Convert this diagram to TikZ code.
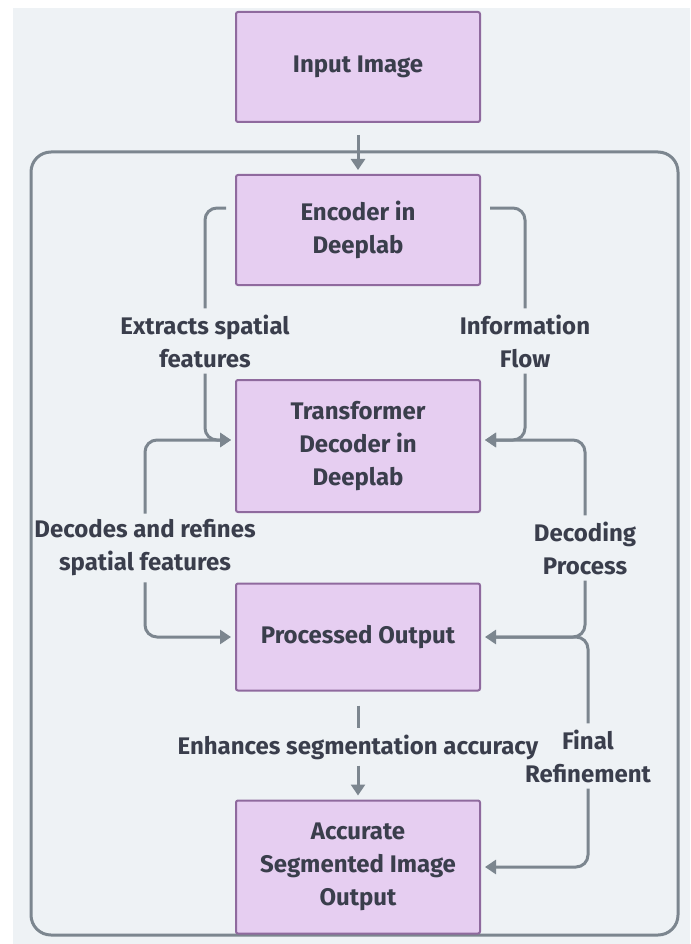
\documentclass[tikz,border=0pt]{standalone}
\usepackage{fontspec}
\setmainfont{Fira Sans}
\usetikzlibrary{arrows.meta,positioning}

\definecolor{bgcol}{HTML}{EEF2F5}
\definecolor{boxfill}{HTML}{E6CEF1}
\definecolor{boxline}{HTML}{8F6A9E}
\definecolor{txtcol}{HTML}{3A3E4C}
\definecolor{wire}{HTML}{7C868F}

\begin{document}
\begin{tikzpicture}[
  x=1pt, y=-1pt,
  stage/.style={rectangle, draw=boxline, line width=2pt, fill=boxfill, rounded corners=2pt,
    minimum width=244pt, align=center, text=txtcol, font=\bfseries\fontsize{24}{33}\selectfont},
  tag/.style={align=center, inner sep=6pt, text=txtcol, font=\bfseries\fontsize{24}{33}\selectfont},
  link/.style={draw=wire, line width=3pt, rounded corners=12pt},
  arr/.style={link, -{Triangle[length=11pt,width=14pt]}, shorten >=4pt}
]
  % canvas
  \useasboundingbox (0,0) rectangle (690,944);
  \fill[bgcol] (13,8) rectangle (690,944);
  \draw[wire, line width=3pt, rounded corners=20pt] (31,152) rectangle (678,935);

  % main column
  \node[stage, minimum height=110pt] (input) at (358,67)  {Input Image};
  \node[stage, minimum height=110pt] (enc)   at (358,230) {Encoder in\\Deeplab};
  \node[stage, minimum height=132pt] (trans) at (358,446) {Transformer\\Decoder in\\Deeplab};
  \node[stage, minimum height=107pt] (proc)  at (358,637) {Processed Output};
  \node[stage, minimum height=133pt] (acc)   at (358,867) {Accurate\\Segmented Image\\Output};

  % edge labels
  \node[tag] (extract) at (205,341) {Extracts spatial\\features};
  \node[tag] (info)    at (525,341) {Information\\Flow};
  \node[tag] (refine)  at (145,548) {Decodes and refines\\spatial features};
  \node[tag] (decode)  at (585,548) {Decoding\\Process};
  \node[tag] (enhance) at (358,747) {Enhances segmentation accuracy};
  \node[tag] (final)   at (588,756) {Final\\Refinement};

  % connectors
  \draw[arr, shorten <=12pt] (input) -- (enc);
  \draw[link, shorten <=9pt] ([yshift=22pt]enc.west) -| (extract.north);
  \draw[arr] (extract.south) |- ([yshift=6pt]trans.west);
  \draw[link, shorten <=9pt] ([yshift=22pt]enc.east) -| (info.north);
  \draw[arr] (info.south) |- ([yshift=6pt]trans.east);
  \draw[arr] (refine.north) |- ([yshift=6pt]trans.west);
  \draw[arr] (refine.south) |- (proc.west);
  \draw[arr] (decode.north) |- ([yshift=6pt]trans.east);
  \draw[arr] (decode.south) |- (proc.east);
  \draw[link, shorten <=9pt] (proc.east) -| (final.north);
  \draw[arr] (final.south) |- (acc.east);
  \draw[link, shorten <=14pt] (proc) -- (enhance);
  \draw[arr] (enhance) -- (acc);
\end{tikzpicture}
\end{document}
